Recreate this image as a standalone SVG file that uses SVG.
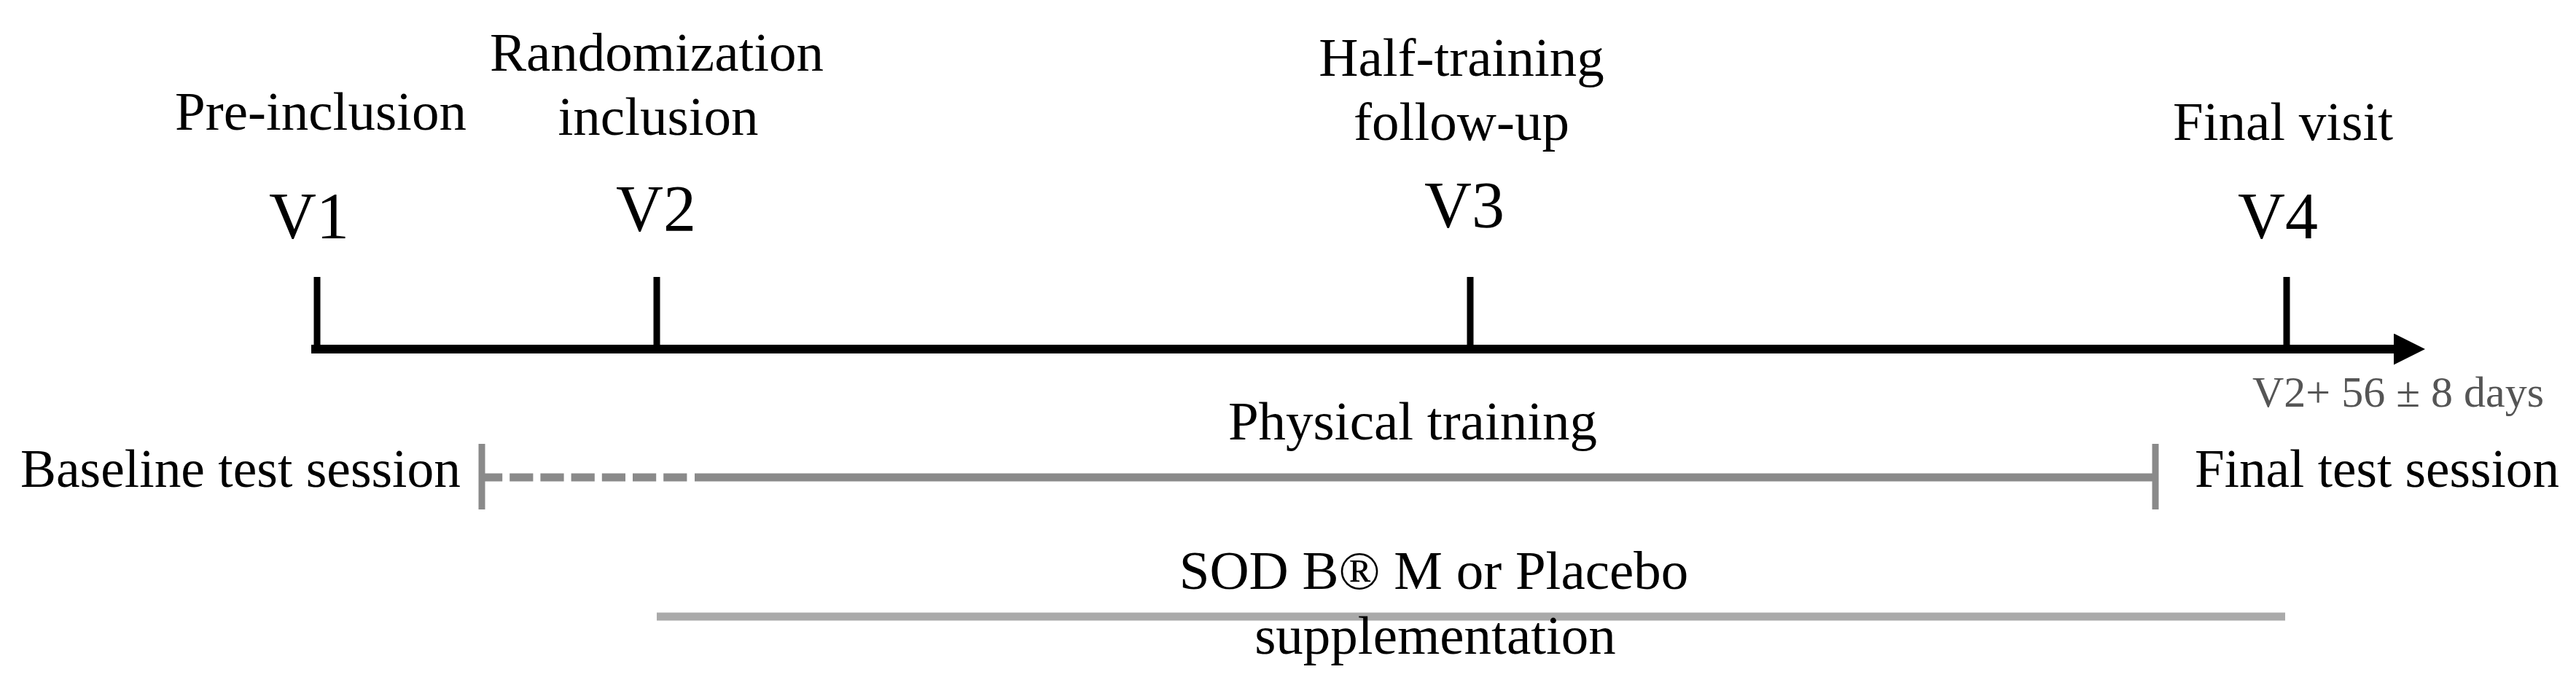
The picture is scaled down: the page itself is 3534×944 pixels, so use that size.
<svg xmlns="http://www.w3.org/2000/svg" width="3534" height="944" viewBox="0 0 3534 944">
<style>
text{font-family:"Liberation Serif","Times New Roman",serif;fill:#000}
.lbl{font-size:75px}
.v{font-size:90px;text-anchor:middle}
.c{text-anchor:middle}
.note{font-size:60px;fill:#555}
.axis{stroke:#000;stroke-width:12;fill:none}
.tick{stroke:#000;stroke-width:9}
.train{stroke:#8a8a8a;stroke-width:11;fill:none}
.bar{stroke:#8a8a8a;stroke-width:9}
.supp{stroke:#aaaaaa;stroke-width:11}
</style>
<defs>
<marker id="arrow" markerUnits="userSpaceOnUse" markerWidth="50" markerHeight="50" refX="4" refY="21.5" orient="auto">
<path d="M0,0 L43,21.5 L0,43 Z" fill="#000"/>
</marker>
</defs>
<rect width="3534" height="944" fill="#fff"/>
<g id="connectors">
<line class="axis" x1="427" y1="479" x2="3288" y2="479" marker-end="url(#arrow)"/>
<line class="tick" x1="435" y1="380" x2="435" y2="474"/>
<line class="tick" x1="901" y1="380" x2="901" y2="474"/>
<line class="tick" x1="2017" y1="380" x2="2017" y2="474"/>
<line class="tick" x1="3137" y1="380" x2="3137" y2="474"/>
<line class="bar" x1="661" y1="609" x2="661" y2="699"/>
<line class="train" x1="664" y1="655" x2="943" y2="655" stroke-dasharray="32.2 10" stroke-dashoffset="7"/>
<line class="train" x1="953" y1="655" x2="2957" y2="655"/>
<line class="bar" x1="2957" y1="609" x2="2957" y2="699"/>
<line class="supp" x1="901" y1="846" x2="3135" y2="846"/>
</g>
<g id="v1">
<text class="lbl c" x="440" y="178">Pre-inclusion</text>
<text class="v" x="424" y="327">V1</text>
</g>
<g id="v2">
<text class="lbl c" x="901" y="97">Randomization</text>
<text class="lbl c" x="903" y="185">inclusion</text>
<text class="v" x="900" y="317">V2</text>
</g>
<g id="v3">
<text class="lbl c" x="2005" y="104">Half-training</text>
<text class="lbl c" x="2005" y="192">follow-up</text>
<text class="v" x="2009" y="312">V3</text>
</g>
<g id="v4">
<text class="lbl c" x="3132" y="192">Final visit</text>
<text class="v" x="3125" y="327">V4</text>
<text class="note" x="3090" y="558">V2+ 56 ± 8 days</text>
</g>
<g id="baseline">
<text class="lbl" x="28" y="668" textLength="604" lengthAdjust="spacingAndGlyphs">Baseline test session</text>
</g>
<g id="training">
<text class="lbl c" x="1938" y="603">Physical training</text>
</g>
<g id="final">
<text class="lbl" x="3011" y="668" textLength="500" lengthAdjust="spacingAndGlyphs">Final test session</text>
</g>
<g id="supplementation">
<text class="lbl c" x="1967" y="808">SOD B® M or Placebo</text>
<text class="lbl c" x="1969" y="897">supplementation</text>
</g>
</svg>
